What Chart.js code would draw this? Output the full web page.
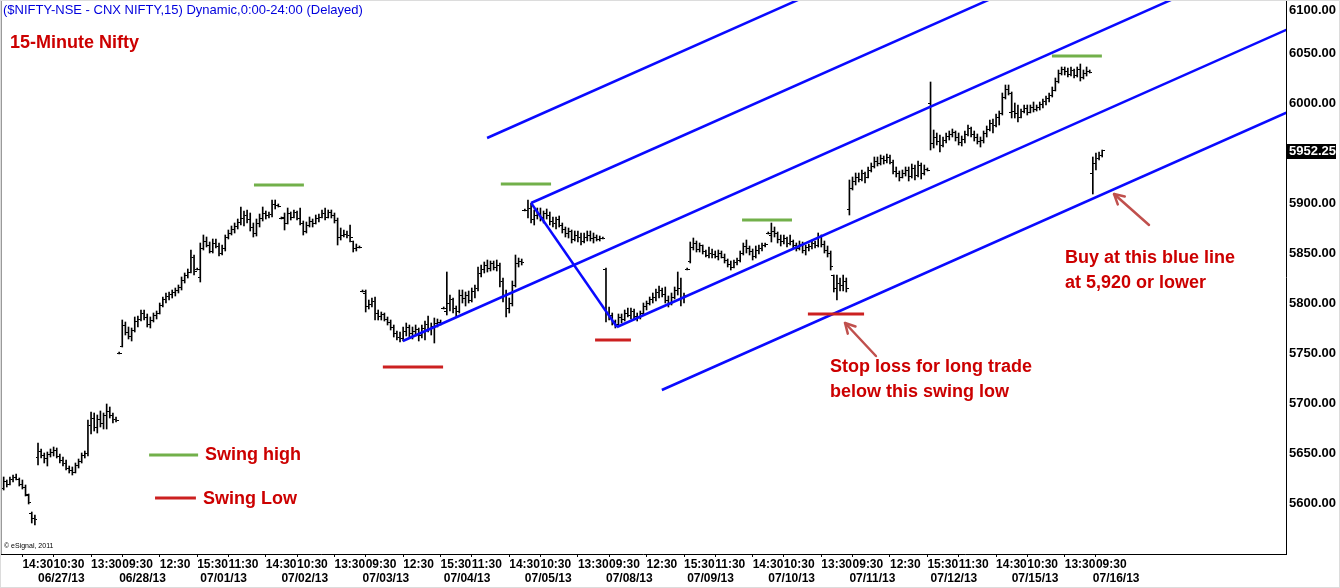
<!DOCTYPE html>
<html>
<head>
<meta charset="utf-8">
<title>15-Minute Nifty</title>
<script src="https://cdn.jsdelivr.net/npm/chart.js@4.4.0/dist/chart.umd.min.js"></script>
<style>
  html, body { margin: 0; padding: 0; background: #fff; }
  #wrap { width: 1340px; height: 588px; }
</style>
</head>
<body>
<div id="wrap"><canvas id="chart" width="1340" height="588"></canvas></div>
<script>
// ---- Sessions (NSE, 15-minute bars 09:15 ... 15:30 = 26 slots) ----
const BARS_PER_SESSION = 26;
const sessionDates = ['06/26/13', '06/27/13', '06/28/13', '07/01/13', '07/02/13', '07/03/13', '07/04/13',
  '07/05/13', '07/08/13', '07/09/13', '07/10/13', '07/11/13', '07/12/13', '07/15/13', '07/16/13'];

// Bars per session as [open, high, low, close]
const s0626 = [[5615,5626,5613,5622],[5622,5623,5616,5619],[5619,5626,5618,5624],[5624,5628,5621,5626],
  [5626,5629,5623,5624],[5624,5625,5617,5619],[5619,5623,5614,5616],[5616,5618,5607,5609],
  [5608,5609,5599,5601],[5590,5591,5580,5585],[5585,5588,5578,5584]];
const s0627 = [[5646,5660,5638,5652],[5652,5654,5645,5648],[5648,5650,5640,5645],[5645,5651,5637,5649],
  [5649,5654,5646,5651],[5651,5656,5647,5653],[5653,5655,5645,5647],[5647,5649,5640,5643],
  [5643,5646,5637,5640],[5640,5643,5633,5635],[5635,5637,5630,5633],[5633,5636,5628,5631],
  [5631,5640,5630,5638],[5638,5644,5635,5642],[5642,5650,5640,5648],[5648,5652,5645,5650],
  [5650,5683,5647,5678],[5678,5691,5669,5685],[5685,5690,5672,5676],[5676,5688,5670,5684],
  [5684,5692,5676,5680],[5680,5690,5674,5688],[5688,5699,5674,5692],[5692,5696,5685,5688],
  [5688,5690,5680,5684],[5684,5686,5681,5683]];
const s0628 = [[5750,5751,5749,5750],[5757,5783,5756,5778],[5778,5781,5768,5771],[5771,5776,5764,5767],
  [5767,5775,5762,5773],[5773,5786,5771,5782],[5782,5787,5776,5784],[5784,5793,5782,5790],
  [5790,5793,5783,5786],[5786,5789,5776,5779],[5779,5786,5775,5783],[5783,5790,5781,5788],
  [5788,5792,5784,5790],[5790,5800,5789,5798],[5798,5806,5796,5804],[5804,5810,5800,5807],
  [5807,5811,5803,5809],[5809,5813,5805,5811],[5811,5815,5807,5813],[5813,5818,5810,5816],
  [5816,5826,5813,5823],[5823,5830,5820,5828],[5828,5834,5825,5831],[5831,5853,5830,5846],
  [5846,5848,5828,5832],[5834,5835,5833,5834]];
const s0701 = [[5826,5860,5821,5855],[5855,5868,5853,5862],[5862,5866,5856,5858],[5858,5861,5850,5852],
  [5852,5864,5850,5860],[5860,5864,5855,5857],[5857,5860,5847,5850],[5850,5858,5848,5855],
  [5855,5868,5852,5866],[5866,5873,5864,5870],[5870,5877,5868,5874],[5874,5880,5870,5877],
  [5877,5884,5874,5881],[5881,5896,5878,5885],[5885,5892,5877,5888],[5888,5893,5880,5884],
  [5884,5890,5872,5876],[5876,5880,5866,5870],[5870,5884,5867,5880],[5880,5889,5876,5885],
  [5885,5896,5882,5890],[5890,5892,5884,5888],[5888,5891,5885,5889],[5889,5903,5886,5899],
  [5899,5903,5894,5898],[5898,5899,5896,5897]];
const s0702 = [[5885,5886,5884,5885],[5886,5890,5873,5880],[5880,5895,5879,5890],[5890,5891,5883,5886],
  [5886,5893,5885,5891],[5891,5892,5883,5885],[5885,5895,5878,5880],[5880,5882,5868,5872],
  [5872,5881,5870,5878],[5878,5886,5876,5882],[5882,5884,5876,5880],[5880,5888,5879,5885],
  [5885,5889,5881,5886],[5886,5893,5885,5890],[5890,5895,5883,5886],[5886,5893,5885,5891],
  [5891,5893,5885,5888],[5888,5890,5880,5883],[5883,5885,5858,5866],[5866,5875,5863,5868],
  [5868,5873,5866,5869],[5869,5872,5865,5868],[5868,5878,5861,5866],[5862,5862,5851,5855],
  [5855,5859,5852,5856],[5856,5857,5855,5856]];
const s0703 = [[5812,5813,5811,5812],[5810,5813,5791,5797],[5797,5803,5794,5799],[5799,5805,5796,5802],
  [5802,5806,5783,5790],[5790,5793,5783,5787],[5787,5791,5783,5789],[5789,5790,5782,5784],
  [5784,5786,5778,5781],[5781,5783,5773,5776],[5776,5778,5766,5770],[5770,5772,5763,5766],
  [5766,5771,5761,5765],[5765,5776,5762,5772],[5772,5780,5767,5776],[5776,5778,5766,5770],
  [5770,5776,5764,5772],[5772,5778,5767,5774],[5774,5775,5762,5768],[5768,5778,5765,5775],
  [5775,5782,5763,5779],[5779,5787,5771,5775],[5775,5780,5768,5777],[5777,5785,5760,5780],
  [5780,5784,5776,5781],[5781,5783,5778,5780]];
const s0704 = [[5795,5796,5794,5795],[5792,5831,5788,5800],[5800,5808,5792,5804],[5804,5805,5790,5795],
  [5795,5797,5786,5792],[5792,5813,5790,5808],[5808,5813,5800,5805],[5805,5811,5797,5808],
  [5808,5812,5800,5803],[5803,5815,5801,5812],[5812,5818,5805,5815],[5815,5836,5812,5830],
  [5830,5838,5826,5834],[5834,5841,5830,5838],[5838,5843,5831,5835],[5835,5842,5832,5840],
  [5840,5842,5833,5836],[5836,5843,5832,5838],[5838,5840,5816,5822],[5822,5825,5801,5808],
  [5808,5813,5786,5795],[5795,5805,5790,5800],[5800,5822,5797,5818],[5818,5848,5816,5840],
  [5840,5845,5836,5842],[5842,5844,5838,5841]];
const s0705 = [[5893,5894,5892,5893],[5893,5903,5885,5895],[5895,5900,5880,5884],[5884,5893,5878,5888],
  [5888,5895,5884,5890],[5890,5895,5882,5886],[5886,5892,5880,5890],[5890,5894,5884,5888],
  [5888,5891,5878,5882],[5882,5886,5876,5880],[5880,5886,5874,5884],[5884,5887,5876,5878],
  [5878,5880,5870,5874],[5874,5876,5866,5870],[5870,5875,5865,5872],[5872,5873,5860,5864],
  [5864,5872,5862,5868],[5868,5872,5861,5866],[5866,5870,5858,5862],[5862,5870,5860,5866],
  [5866,5872,5862,5868],[5868,5872,5862,5865],[5865,5870,5860,5866],[5866,5868,5862,5864],
  [5864,5867,5862,5865],[5865,5866,5864,5865]];
const s0708 = [[5834,5835,5781,5790],[5790,5796,5783,5788],[5788,5790,5778,5782],[5782,5783,5775,5779],
  [5779,5789,5777,5786],[5786,5789,5780,5784],[5784,5793,5782,5790],[5790,5795,5786,5788],
  [5788,5795,5784,5792],[5792,5794,5784,5787],[5787,5790,5782,5786],[5786,5792,5784,5790],
  [5790,5800,5788,5797],[5797,5802,5793,5800],[5800,5806,5798,5804],[5804,5810,5800,5806],
  [5806,5814,5802,5811],[5811,5817,5805,5813],[5813,5815,5806,5809],[5809,5816,5800,5803],
  [5803,5807,5796,5800],[5800,5810,5798,5806],[5806,5816,5804,5813],[5813,5831,5808,5815],
  [5815,5825,5797,5805],[5805,5810,5800,5808]];
const s0709 = [[5834,5835,5833,5834],[5842,5861,5840,5856],[5856,5865,5853,5860],[5860,5862,5851,5854],
  [5854,5860,5851,5858],[5858,5858,5849,5852],[5852,5853,5846,5848],[5848,5856,5845,5850],
  [5850,5854,5845,5849],[5849,5852,5845,5847],[5847,5853,5843,5850],[5850,5852,5845,5846],
  [5846,5849,5840,5843],[5843,5844,5836,5839],[5839,5842,5833,5836],[5836,5843,5835,5841],
  [5841,5845,5838,5843],[5843,5852,5841,5850],[5850,5860,5848,5857],[5857,5863,5850,5855],
  [5855,5857,5848,5852],[5852,5854,5843,5847],[5847,5857,5845,5853],[5853,5858,5849,5855],
  [5855,5860,5852,5858],[5858,5860,5856,5859]];
const s0710 = [[5870,5871,5869,5870],[5868,5880,5861,5872],[5872,5876,5866,5870],[5870,5871,5860,5864],
  [5864,5868,5857,5862],[5862,5868,5859,5865],[5865,5866,5856,5860],[5860,5868,5858,5862],
  [5862,5863,5855,5858],[5858,5860,5852,5855],[5855,5862,5853,5859],[5859,5861,5850,5853],
  [5853,5858,5848,5856],[5856,5859,5852,5857],[5857,5863,5854,5860],[5860,5862,5855,5858],
  [5858,5870,5856,5866],[5866,5868,5856,5859],[5859,5862,5850,5853],[5853,5857,5846,5850],
  [5850,5852,5833,5837],[5828,5828,5811,5815],[5815,5828,5803,5820],[5820,5825,5812,5818],
  [5818,5828,5812,5822],[5822,5825,5811,5815]];
const s0711 = [[5894,5923,5888,5915],[5915,5926,5913,5922],[5922,5930,5918,5926],[5926,5930,5921,5924],
  [5924,5933,5922,5930],[5930,5931,5920,5926],[5926,5936,5925,5933],[5933,5940,5931,5937],
  [5937,5946,5935,5942],[5942,5946,5937,5940],[5940,5948,5938,5945],[5945,5947,5939,5943],
  [5943,5949,5940,5946],[5946,5948,5939,5941],[5941,5943,5929,5932],[5932,5936,5926,5930],
  [5930,5932,5922,5926],[5926,5933,5925,5930],[5930,5936,5927,5933],[5933,5936,5922,5927],
  [5927,5939,5925,5935],[5935,5938,5923,5928],[5928,5942,5926,5938],[5938,5940,5924,5930],
  [5930,5938,5928,5934],[5934,5935,5932,5933]];
const s0712 = [[6000,6021,5953,5960],[5960,5973,5955,5966],[5966,5970,5958,5962],[5962,5968,5951,5958],
  [5958,5966,5956,5963],[5963,5970,5960,5967],[5967,5972,5963,5969],[5969,5974,5966,5971],
  [5971,5972,5962,5966],[5966,5970,5958,5961],[5961,5967,5957,5964],[5964,5972,5960,5969],
  [5969,5978,5967,5975],[5975,5976,5966,5969],[5969,5972,5962,5966],[5966,5969,5959,5962],
  [5962,5966,5956,5963],[5963,5972,5960,5970],[5970,5977,5966,5974],[5974,5983,5972,5980],
  [5980,5984,5970,5978],[5978,5989,5976,5986],[5986,5992,5978,5990],[5990,6010,5988,6006],
  [6006,6018,6004,6014],[6014,6018,6008,6010]];
const s0715 = [[5991,6011,5985,5992],[5992,6000,5985,5990],[5990,5998,5981,5986],[5986,5994,5985,5992],
  [5992,5998,5990,5995],[5995,5998,5988,5991],[5991,5998,5990,5996],[5996,6001,5991,5994],
  [5994,5998,5992,5996],[5996,6001,5993,5999],[5999,6004,5995,6002],[6002,6007,5998,6005],
  [6005,6010,6001,6008],[6008,6016,6006,6013],[6013,6025,6012,6022],[6022,6033,6020,6030],
  [6030,6036,6028,6034],[6034,6036,6028,6032],[6032,6035,6026,6029],[6029,6036,6027,6033],
  [6033,6034,6025,6028],[6028,6036,6026,6034],[6034,6039,6022,6026],[6026,6033,6024,6030],
  [6030,6036,6027,6032],[6032,6033,6030,6031]];
const s0716 = [[5930,5946,5909,5940],[5940,5950,5933,5945],[5945,5951,5943,5948],[5948,5953,5946,5952.25]];

// [session date, time of first bar, bars]
const sessions = [
  ['06/26/13', '13:00', s0626], ['06/27/13', '09:15', s0627], ['06/28/13', '09:15', s0628],
  ['07/01/13', '09:15', s0701], ['07/02/13', '09:15', s0702], ['07/03/13', '09:15', s0703],
  ['07/04/13', '09:15', s0704], ['07/05/13', '09:15', s0705], ['07/08/13', '09:15', s0708],
  ['07/09/13', '09:15', s0709], ['07/10/13', '09:15', s0710], ['07/11/13', '09:15', s0711],
  ['07/12/13', '09:15', s0712], ['07/15/13', '09:15', s0715], ['07/16/13', '09:15', s0716]
];

// Time axis labels: [session date, bar time]
const timeTicks = [
  ['06/26/13','14:30'],['06/27/13','10:30'],['06/27/13','13:30'],['06/28/13','09:30'],['06/28/13','12:30'],
  ['06/28/13','15:30'],['07/01/13','11:30'],['07/01/13','14:30'],['07/02/13','10:30'],['07/02/13','13:30'],
  ['07/03/13','09:30'],['07/03/13','12:30'],['07/03/13','15:30'],['07/04/13','11:30'],['07/04/13','14:30'],
  ['07/05/13','10:30'],['07/05/13','13:30'],['07/08/13','09:30'],['07/08/13','12:30'],['07/08/13','15:30'],
  ['07/09/13','11:30'],['07/09/13','14:30'],['07/10/13','10:30'],['07/10/13','13:30'],['07/11/13','09:30'],
  ['07/11/13','12:30'],['07/11/13','15:30'],['07/12/13','11:30'],['07/12/13','14:30'],['07/15/13','10:30'],
  ['07/15/13','13:30'],['07/16/13','09:30']
];
const dateTicks = sessionDates.slice(1);

// Price axis
const priceTicks = [5600, 5650, 5700, 5750, 5800, 5850, 5900, 6000, 6050];
const topPriceTick = 6100;
const lastPrice = 5952.25;

// Andrews pitchfork and its warning lines: [barIndex, price] endpoints
const pfHandle      = [[158.0, 5900], [185.5, 5776]];
const pfMedian      = [[116.9, 5762], [400, 6154.3]];
const pfUpperTine   = [[158.0, 5900], [400, 6235.3]];
const pfLowerTine   = [[185.5, 5776], [400, 6073.2]];
const pfUpperWarn   = [[143.9, 5965], [400, 6320.0]];
const pfLowerWarn   = [[199.9, 5713], [400, 5990.3]];

// Swing markers: [fromBar, toBar, price]
const swingHighs = [[69.2, 85.2, 5918], [148.3, 164.4, 5919], [225.6, 241.6, 5883], [324.9, 340.9, 6047]];
const swingLows  = [[110.5, 129.8, 5736], [178.5, 190.0, 5763], [246.7, 264.7, 5789]];
const keyHigh = [35.6, 51.3, 5648];
const keyLow  = [37.5, 50.6, 5605];

// Notes: [text, barIndex, price]
const notes = [
  ['Swing high', 53.5, 5648], ['Swing Low', 52.9, 5604],
  ['Stop loss for long trade', 253.8, 5736], ['below this swing low', 253.8, 5711],
  ['Buy at this blue line', 329.1, 5845], ['at 5,920 or lower', 329.1, 5820]
];
// Arrows: [tailBar, tailPrice, tipBar, tipPrice]
const arrows = [[268.5, 5747, 258.6, 5780], [356.0, 5878, 344.8, 5909]];

const titleText = '($NIFTY-NSE - CNX NIFTY,15) Dynamic,0:00-24:00 (Delayed)';
const chartName = '15-Minute Nifty';

// ---- helpers ----
function slotOf(hhmm) { const [h, m] = hhmm.split(':').map(Number); return (h * 60 + m - 555) / 15; }
function barIndex(date, slot) { return (sessionDates.indexOf(date) - 1) * BARS_PER_SESSION + slot; }

const hlData = [], openData = [], closeData = [];
sessions.forEach(([date, start, bars]) => {
  const i0 = barIndex(date, slotOf(start));
  bars.forEach(([o, h, l, c], k) => {
    const i = i0 + k;
    hlData.push({ x: i, y: [l, h] });
    openData.push({ x: i, y: o });
    closeData.push({ x: i, y: c });
  });
});

function tickImage(left) {
  const c = document.createElement('canvas');
  c.width = 5; c.height = 1;
  const g = c.getContext('2d');
  g.fillStyle = '#000';
  g.fillRect(left ? 0 : 3, 0, 2, 1);
  return c;
}
const openImg = tickImage(true), closeImg = tickImage(false);

const seg = pts => pts.map(([x, y]) => ({ x, y }));
const lineSet = (pts, color, width, order) => ({
  type: 'line', data: seg(pts), borderColor: color, borderWidth: width,
  pointRadius: 0, fill: false, tension: 0, order
});

const BLUE = '#0a0aff', GREEN = '#72b04a', RED = '#cc2020', NOTE = '#cc0000', ARROW = '#c0504d';
const FONT = '"Liberation Sans", Arial, sans-serif';
Chart.defaults.font.family = FONT;

const datasets = [
  { type: 'bar', data: hlData, backgroundColor: '#000', borderWidth: 0, barThickness: 1, order: 5 },
  { type: 'scatter', data: openData, pointStyle: openImg, pointRadius: 1, order: 4 },
  { type: 'scatter', data: closeData, pointStyle: closeImg, pointRadius: 1, order: 4 },
  lineSet(pfHandle, BLUE, 2.5, 3), lineSet(pfMedian, BLUE, 2.5, 3),
  lineSet(pfUpperTine, BLUE, 2.5, 3), lineSet(pfLowerTine, BLUE, 2.5, 3),
  lineSet(pfUpperWarn, BLUE, 2.5, 3), lineSet(pfLowerWarn, BLUE, 2.5, 3),
  ...swingHighs.map(([a, b, v]) => lineSet([[a, v], [b, v]], GREEN, 3, 1)),
  ...swingLows.map(([a, b, v]) => lineSet([[a, v], [b, v]], RED, 3, 1)),
  lineSet([[keyHigh[0], keyHigh[2]], [keyHigh[1], keyHigh[2]]], GREEN, 3, 1),
  lineSet([[keyLow[0], keyLow[2]], [keyLow[1], keyLow[2]]], RED, 3, 1)
];

// Text, arrows, price tag and frame drawn on top of the plot
const overlay = {
  id: 'overlay',
  afterDraw(chart) {
    const { ctx, chartArea: a, scales: { x, y } } = chart;
    const px = v => x.getPixelForValue(v), py = v => y.getPixelForValue(v);
    ctx.save();

    // frame
    ctx.strokeStyle = '#9a9a9a'; ctx.lineWidth = 1;
    ctx.beginPath(); ctx.moveTo(1.5, 0); ctx.lineTo(1.5, a.bottom); ctx.stroke();
    ctx.strokeStyle = '#dcdcdc';
    ctx.strokeRect(0.5, 0.5, chart.width - 1, chart.height - 1);

    ctx.textBaseline = 'middle'; ctx.textAlign = 'left';
    ctx.font = '13px ' + FONT; ctx.fillStyle = '#0000dd';
    ctx.fillText(titleText, a.left + 3, a.top + 10);
    ctx.font = 'bold 18px ' + FONT; ctx.fillStyle = NOTE;
    ctx.fillText(chartName, a.left + 10, a.top + 43);

    notes.forEach(([t, i, v]) => ctx.fillText(t, px(i), py(v)));

    // arrows
    ctx.strokeStyle = ARROW; ctx.lineWidth = 2.5; ctx.lineCap = 'round'; ctx.lineJoin = 'round';
    arrows.forEach(([i0, v0, i1, v1]) => {
      const x0 = px(i0), y0 = py(v0), x1 = px(i1), y1 = py(v1);
      const ang = Math.atan2(y1 - y0, x1 - x0), L = 11, w = 0.5;
      ctx.beginPath(); ctx.moveTo(x0, y0); ctx.lineTo(x1, y1); ctx.stroke();
      ctx.beginPath();
      ctx.moveTo(x1 - L * Math.cos(ang - w), y1 - L * Math.sin(ang - w));
      ctx.lineTo(x1, y1);
      ctx.lineTo(x1 - L * Math.cos(ang + w), y1 - L * Math.sin(ang + w));
      ctx.stroke();
    });

    // copyright
    ctx.font = '7px ' + FONT; ctx.fillStyle = '#000';
    ctx.fillText('\u00A9 eSignal, 2011', a.left + 4, a.bottom - 8);

    // price axis: top label and last-price tag
    ctx.font = 'bold 13px ' + FONT;
    ctx.fillText(topPriceTick.toFixed(2), y.left + 3, Math.max(py(topPriceTick), 10));
    const yp = py(lastPrice);
    ctx.fillStyle = '#000';
    ctx.fillRect(y.left + 1, Math.round(yp) - 7, 49, 15);
    ctx.fillStyle = '#fff';
    ctx.fillText(lastPrice.toFixed(2), y.left + 3, yp + 0.5);
    ctx.restore();
  }
};

const xRange = { min: -12.18, max: 399.9 };

new Chart(document.getElementById('chart'), {
  type: 'bar',
  data: { datasets },
  options: {
    responsive: false,
    animation: false,
    events: [],
    layout: { padding: 0, autoPadding: false },
    plugins: { legend: { display: false }, tooltip: { enabled: false } },
    scales: {
      x: {
        type: 'linear', position: 'bottom', offset: false, weight: 0,
        min: xRange.min, max: xRange.max,
        grid: { display: true, drawOnChartArea: false, drawTicks: true, tickLength: 3, color: '#000', offset: false },
        border: { display: true, color: '#000', width: 1 },
        ticks: {
          autoSkip: false, maxRotation: 0, minRotation: 0, align: 'start', padding: 0,
          color: '#000', font: { size: 12, weight: 'bold' },
          callback: (v, i) => timeTicks[i] ? timeTicks[i][1] : ''
        },
        afterBuildTicks: s => { s.ticks = timeTicks.map(([d, t]) => ({ value: barIndex(d, slotOf(t)) })); },
        afterFit: s => { s.height = 17; s.paddingLeft = 0; s.paddingRight = 0; }
      },
      xd: {
        type: 'linear', position: 'bottom', offset: false, weight: 1,
        min: xRange.min, max: xRange.max,
        grid: { display: false, drawTicks: false },
        border: { display: false },
        ticks: {
          autoSkip: false, maxRotation: 0, minRotation: 0, align: 'start', padding: 0,
          color: '#000', font: { size: 12, weight: 'bold' },
          callback: (v, i) => dateTicks[i] || ''
        },
        afterBuildTicks: s => { s.ticks = dateTicks.map(d => ({ value: barIndex(d, 0) })); },
        afterFit: s => { s.height = 17; s.paddingLeft = 0; s.paddingRight = 0; }
      },
      y: {
        type: 'linear', position: 'right', min: 5549, max: 6103, bounds: 'data',
        grid: { display: false, drawTicks: false },
        border: { display: true, color: '#000', width: 1 },
        ticks: {
          padding: 3, color: '#000', font: { size: 13, weight: 'bold' },
          callback: v => Number(v).toFixed(2)
        },
        afterBuildTicks: s => { s.ticks = priceTicks.map(v => ({ value: v })); },
        afterFit: s => { s.width = 54; s.paddingTop = 0; s.paddingBottom = 0; }
      }
    }
  },
  plugins: [overlay]
});
</script>
</body>
</html>
